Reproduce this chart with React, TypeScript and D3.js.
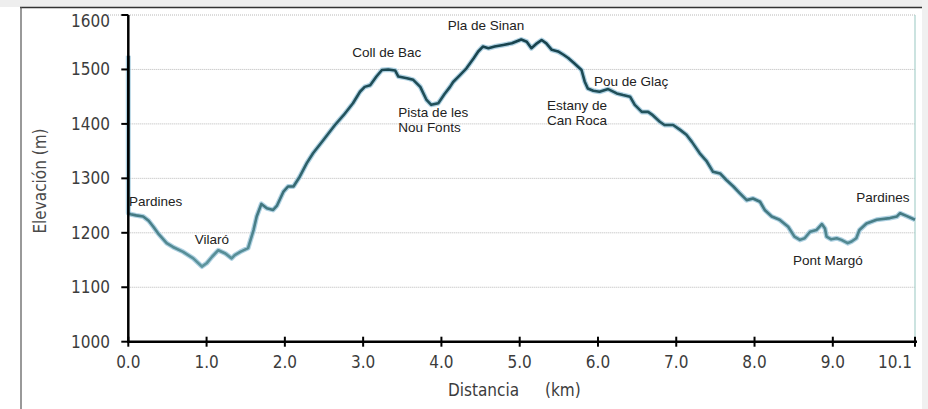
import React from "react";
import * as d3 from "d3";

const distanceKm = [
  0.0, 0.0, 0.03, 0.1, 0.19, 0.26, 0.32, 0.38, 0.49, 0.57, 0.7, 0.83, 0.94, 1.0, 1.07, 1.15, 1.24, 1.32, 1.36, 1.43,
  1.53, 1.6, 1.64, 1.7, 1.77, 1.85, 1.9, 1.98, 2.04, 2.11, 2.19, 2.28, 2.36, 2.49, 2.64, 2.75, 2.87, 2.96, 3.02,
  3.09, 3.17, 3.24, 3.32, 3.41, 3.45, 3.56, 3.64, 3.73, 3.81, 3.87, 3.96, 4.04, 4.11, 4.15, 4.24, 4.32, 4.41,
  4.47, 4.53, 4.6, 4.68, 4.79, 4.9, 5.02, 5.09, 5.15, 5.22, 5.28, 5.34, 5.41, 5.49, 5.56, 5.62, 5.7, 5.79, 5.83,
  5.87, 5.94, 6.02, 6.13, 6.24, 6.32, 6.41, 6.47, 6.56, 6.64, 6.7, 6.79, 6.85, 6.96, 7.05, 7.13, 7.2, 7.3, 7.39,
  7.47, 7.56, 7.64, 7.73, 7.81, 7.9, 7.98, 8.07, 8.13, 8.22, 8.32, 8.43, 8.51, 8.58, 8.64, 8.71, 8.79, 8.86, 8.9,
  8.92, 8.98, 9.05, 9.11, 9.19, 9.24, 9.3, 9.34, 9.43, 9.56, 9.73, 9.82, 9.86, 9.94, 10.05,
];
const elevationM = [
  1525, 1236, 1234, 1232, 1230, 1222, 1211, 1199, 1181, 1174, 1165, 1153, 1138, 1144, 1156, 1168, 1162, 1153, 1159, 1165,
  1172, 1205, 1230, 1253, 1245, 1242, 1250, 1275, 1285, 1285, 1303, 1328, 1346, 1370, 1398, 1416, 1438, 1459, 1468,
  1471, 1487, 1499, 1500, 1498, 1487, 1484, 1481, 1468, 1444, 1435, 1438, 1455, 1468, 1477, 1490, 1502, 1520,
  1533, 1542, 1539, 1542, 1545, 1548, 1555, 1551, 1539, 1548, 1554, 1548, 1536, 1533, 1527, 1521, 1511, 1499, 1478,
  1465, 1461, 1459, 1464, 1456, 1453, 1450, 1435, 1422, 1422, 1416, 1404, 1398, 1398, 1389, 1380, 1367, 1346, 1331,
  1312, 1309, 1297, 1285, 1273, 1260, 1263, 1257, 1242, 1230, 1224, 1211, 1193, 1187, 1190, 1202, 1205, 1216, 1208,
  1193, 1188, 1190, 1187, 1181, 1184, 1190, 1205, 1217, 1224, 1227, 1230, 1236, 1231, 1224,
];

const xTickValues = [0, 1, 2, 3, 4, 5, 6, 7, 8, 9, 10.05];
const xTickLabels = ["0.0", "1.0", "2.0", "3.0", "4.0", "5.0", "6.0", "7.0", "8.0", "9.0", "10.1"];
const yTickValues = [1000, 1100, 1200, 1300, 1400, 1500, 1600];

const placeNames = ["Pardines", "Vilaró", "Coll de Bac", "Pla de Sinan", "Pista de les|Nou Fonts", "Estany de|Can Roca", "Pou de Glaç", "Pardines", "Pont Margó"];
const placeKm = [0.01, 0.85, 2.86, 4.08, 3.45, 5.35, 5.95, 9.3, 8.49];
const placeElev = [1250, 1180, 1522, 1572, 1412, 1425, 1470, 1256, 1141];

const W = 928;
const H = 409;

export default function App() {
  const x = d3.scaleLinear().domain([0, 10.05]).range([128.3, 915]);
  const y = d3.scaleLinear().domain([1000, 1600]).range([341.7, 15]);
  const pts: [number, number][] = distanceKm.map((d, i) => [d, elevationM[i]]);
  const line = d3
    .line<[number, number]>()
    .x((d) => x(d[0]))
    .y((d) => y(d[1]));
  const path = line(pts) || "";
  const tickFont = "'DejaVu Sans Condensed', 'DejaVu Sans', Verdana, sans-serif";
  const annFont = "'Liberation Sans', Arial, sans-serif";
  const lastIdx = xTickValues.length - 1;

  return (
    <svg
      width={W}
      height={H}
      style={{ position: "absolute", left: 0, top: 0, background: "#fff" }}
    >
      <defs>
        <linearGradient id="lineGrad" gradientUnits="userSpaceOnUse" x1="0" y1="20" x2="0" y2="270">
          <stop offset="0" stopColor="#143e49" />
          <stop offset="0.55" stopColor="#2a5d66" />
          <stop offset="1" stopColor="#5f97a0" />
        </linearGradient>
      </defs>
      {/* frame */}
      <rect x={0} y={0} width={W} height={7} fill="#eeeeee" />
      <rect x={922} y={0} width={6} height={H} fill="#f0f0f0" />
      <line x1={20} x2={922} y1={7.5} y2={7.5} stroke="#333" strokeWidth={1.5} />
      <line x1={21} x2={21} y1={7} y2={H} stroke="#555" strokeWidth={1.2} />
      {/* grid */}
      {yTickValues.slice(1).map((v) => (
        <line
          key={v}
          x1={v === 1600 ? 108 : x(0)}
          x2={x(10.05)}
          y1={y(v)}
          y2={y(v)}
          stroke="#b8b8b8"
          strokeWidth={1}
          strokeDasharray="1,1"
        />
      ))}
      <line x1={x(10.05)} x2={x(10.05)} y1={y(1600)} y2={y(1000)} stroke="#a9d0cc" strokeWidth={1.2} />
      {/* profile */}
      <path d={path} fill="none" stroke="#9cc7dc" strokeWidth={5} strokeLinejoin="round" opacity={0.8} />
      <path d={path} fill="none" stroke="url(#lineGrad)" strokeWidth={2.6} strokeLinejoin="round" />
      {/* axes */}
      <line x1={x(0)} x2={x(0)} y1={y(1600)} y2={y(1000) + 1} stroke="#000" strokeWidth={2.5} />
      <line x1={x(0) - 1} x2={x(10.05) + 2} y1={y(1000)} y2={y(1000)} stroke="#000" strokeWidth={2.5} />
      {yTickValues.map((v) => (
        <g key={v}>
          <line x1={x(0) - 7} x2={x(0)} y1={y(v)} y2={y(v)} stroke="#000" strokeWidth={2} />
          <text
            x={110}
            y={y(v) + (v === 1600 ? 6 : 0)}
            textAnchor="end"
            dominantBaseline="central"
            fontFamily={tickFont}
            fontSize={17}
            fill="#3c3c3c"
          >
            {v}
          </text>
        </g>
      ))}
      {xTickValues.map((v, i) => (
        <g key={v}>
          <line x1={x(v)} x2={x(v)} y1={y(1000) - 5} y2={y(1000) + 5} stroke="#000" strokeWidth={2} />
          <text
            x={i === lastIdx ? x(v) - 3 : x(v)}
            y={368}
            textAnchor={i === lastIdx ? "end" : "middle"}
            fontFamily={tickFont}
            fontSize={17}
            fill="#3c3c3c"
          >
            {xTickLabels[i]}
          </text>
        </g>
      ))}
      <text
        transform={`translate(40,181) rotate(-90)`}
        textAnchor="middle"
        dominantBaseline="central"
        fontFamily={tickFont}
        fontSize={17}
        fill="#4a4a4a"
      >
        Elevación (m)
      </text>
      <text x={448} y={396} fontFamily={tickFont} fontSize={17} fill="#3c3c3c">
        Distancia
      </text>
      <text x={545} y={396} fontFamily={tickFont} fontSize={17} fill="#3c3c3c">
        (km)
      </text>
      {/* annotations */}
      {placeNames.map((name, i) => (
        <text key={i} x={x(placeKm[i])} y={y(placeElev[i])} fontFamily={annFont} fontSize={13.5} fill="#222">
          {name.split("|").map((part, j) => (
            <tspan key={j} x={x(placeKm[i])} dy={j === 0 ? 0 : 15}>
              {part}
            </tspan>
          ))}
        </text>
      ))}
    </svg>
  );
}
